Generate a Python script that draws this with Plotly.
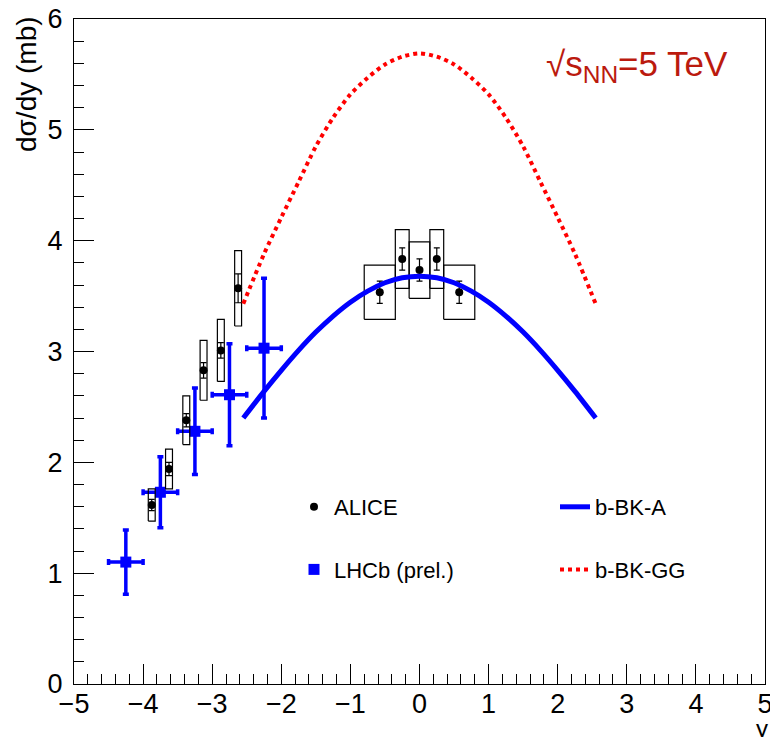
import plotly.graph_objects as go

# ---------------- data ----------------
# ALICE coherent J/psi (points, stat. errors, syst. boxes)
alice_y = [-3.875, -3.625, -3.375, -3.125, -2.875, -2.625, -0.575, -0.25, 0.0, 0.25, 0.575]
alice_val = [1.615, 1.94, 2.38, 2.83, 3.01, 3.57, 3.535, 3.835, 3.735, 3.835, 3.535]
alice_stat = [0.05, 0.06, 0.06, 0.07, 0.07, 0.13, 0.10, 0.10, 0.10, 0.10, 0.10]
alice_syst = [0.145, 0.18, 0.22, 0.27, 0.28, 0.34, 0.245, 0.265, 0.255, 0.265, 0.245]
alice_box_lo = [-3.925, -3.675, -3.425, -3.175, -2.925, -2.675, -0.80, -0.35, -0.15, 0.15, 0.35]
alice_box_hi = [-3.825, -3.575, -3.325, -3.075, -2.825, -2.575, -0.35, -0.15, 0.15, 0.35, 0.80]

# LHCb (prel.)
lhcb_y = [-4.25, -3.75, -3.25, -2.75, -2.25]
lhcb_val = [1.10, 1.73, 2.28, 2.61, 3.03]
lhcb_yerr = [0.29, 0.32, 0.39, 0.46, 0.63]
lhcb_xerr = [0.25, 0.25, 0.25, 0.25, 0.25]

# model curves
model_y = [-2.55, -2.25, -2.0, -1.75, -1.5, -1.25, -1.0, -0.75, -0.5, -0.25, 0.0,
           0.25, 0.5, 0.75, 1.0, 1.25, 1.5, 1.75, 2.0, 2.25, 2.55]
bbk_a = [2.40, 2.64, 2.83, 3.01, 3.175, 3.32, 3.445, 3.545, 3.62, 3.665, 3.68,
         3.665, 3.62, 3.545, 3.445, 3.32, 3.175, 3.01, 2.83, 2.64, 2.40]
bbk_gg = [3.43, 3.88, 4.21, 4.53, 4.85, 5.11, 5.32, 5.47, 5.59, 5.66, 5.69,
          5.66, 5.59, 5.47, 5.32, 5.11, 4.85, 4.53, 4.21, 3.88, 3.43]

FONT = "Liberation Sans, Arial, Helvetica, sans-serif"

fig = go.Figure()

# LHCb
fig.add_trace(go.Scatter(
    x=lhcb_y, y=lhcb_val, mode="markers", name="LHCb (prel.)",
    marker=dict(symbol="square", size=11, color="#0000ff"),
    error_y=dict(type="data", array=lhcb_yerr, color="#0000ff", thickness=3.5, width=3),
    error_x=dict(type="data", array=lhcb_xerr, color="#0000ff", thickness=3.5, width=3),
    legend="legend", legendrank=2,
))

# ALICE systematic boxes
bx, by = [], []
for lo, hi, v, s in zip(alice_box_lo, alice_box_hi, alice_val, alice_syst):
    bx += [lo, hi, hi, lo, lo, None]
    by += [v - s, v - s, v + s, v + s, v - s, None]
fig.add_trace(go.Scatter(x=bx, y=by, mode="lines", line=dict(color="black", width=1.2),
                         showlegend=False, hoverinfo="skip"))

# ALICE points
fig.add_trace(go.Scatter(
    x=alice_y, y=alice_val, mode="markers", name="ALICE",
    marker=dict(symbol="circle", size=8, color="black"),
    error_y=dict(type="data", array=alice_stat, color="black", thickness=1.2, width=3),
    legend="legend", legendrank=1,
))

# models
fig.add_trace(go.Scatter(x=model_y, y=bbk_a, mode="lines", name="b-BK-A",
                         line=dict(color="#0000ff", width=5, shape="spline", smoothing=0.8),
                         legend="legend2", legendrank=1))
fig.add_trace(go.Scatter(x=model_y, y=bbk_gg, mode="lines", name="b-BK-GG",
                         line=dict(color="#ff0000", width=4, dash="dot", shape="spline", smoothing=0.8),
                         legend="legend2", legendrank=2))

axis_common = dict(
    showline=True, linecolor="black", linewidth=1, mirror=True,
    ticks="inside", tickcolor="black", tickwidth=1, ticklen=20,
    showgrid=False, zeroline=False, automargin=False,
    tickfont=dict(family=FONT, size=27, color="black"),
    ticklabeloverflow="allow",
)

fig.update_xaxes(range=[-5, 5], dtick=1, tick0=-5,
                 minor=dict(dtick=0.2, ticks="inside", ticklen=10, tickcolor="black", showgrid=False),
                 ticklabelstandoff=-4, **axis_common)
fig.update_yaxes(range=[0, 6], dtick=1, tick0=0,
                 minor=dict(dtick=0.2, ticks="inside", ticklen=10, tickcolor="black", showgrid=False),
                 ticklabelstandoff=5, **axis_common)

L, R, T, B = 74, 5, 19, 53
PW, PH = 770 - L - R, 737 - T - B

def px(xp):
    return (xp - L) / PW

def py(yp):
    return (737 - B - yp) / PH

fig.update_layout(
    width=770, height=737,
    margin=dict(l=L, r=R, t=T, b=B, autoexpand=False),
    paper_bgcolor="white", plot_bgcolor="white",
    font=dict(family=FONT, color="black"),
    legend=dict(x=px(294), y=py(486), xanchor="left", yanchor="top",
                font=dict(family=FONT, size=22), bgcolor="rgba(0,0,0,0)",
                tracegroupgap=31, traceorder="grouped"),
    legend2=dict(x=px(555), y=py(486), xanchor="left", yanchor="top",
                 font=dict(family=FONT, size=22), bgcolor="rgba(0,0,0,0)",
                 tracegroupgap=31, traceorder="grouped"),
    annotations=[
        dict(text="√s<sub>NN</sub>=5 TeV", xref="paper", yref="paper",
             x=px(544), y=py(66), xanchor="left", yanchor="middle", showarrow=False,
             font=dict(family=FONT, size=35, color="#bb1a0e")),
        dict(text="dσ/dy (mb)", xref="paper", yref="paper", textangle=-90,
             x=px(27), y=py(14), xanchor="center", yanchor="top", showarrow=False,
             font=dict(family=FONT, size=28, color="black")),
        dict(text="y", xref="paper", yref="paper",
             x=px(762), y=py(728), xanchor="center", yanchor="middle", showarrow=False,
             borderpad=0, font=dict(family=FONT, size=24, color="black")),
    ],
)

# give each legend item its own group to control vertical spacing
for i, tr in enumerate(fig.data):
    tr.legendgroup = f"g{i}"

fig.write_html("out.html")
